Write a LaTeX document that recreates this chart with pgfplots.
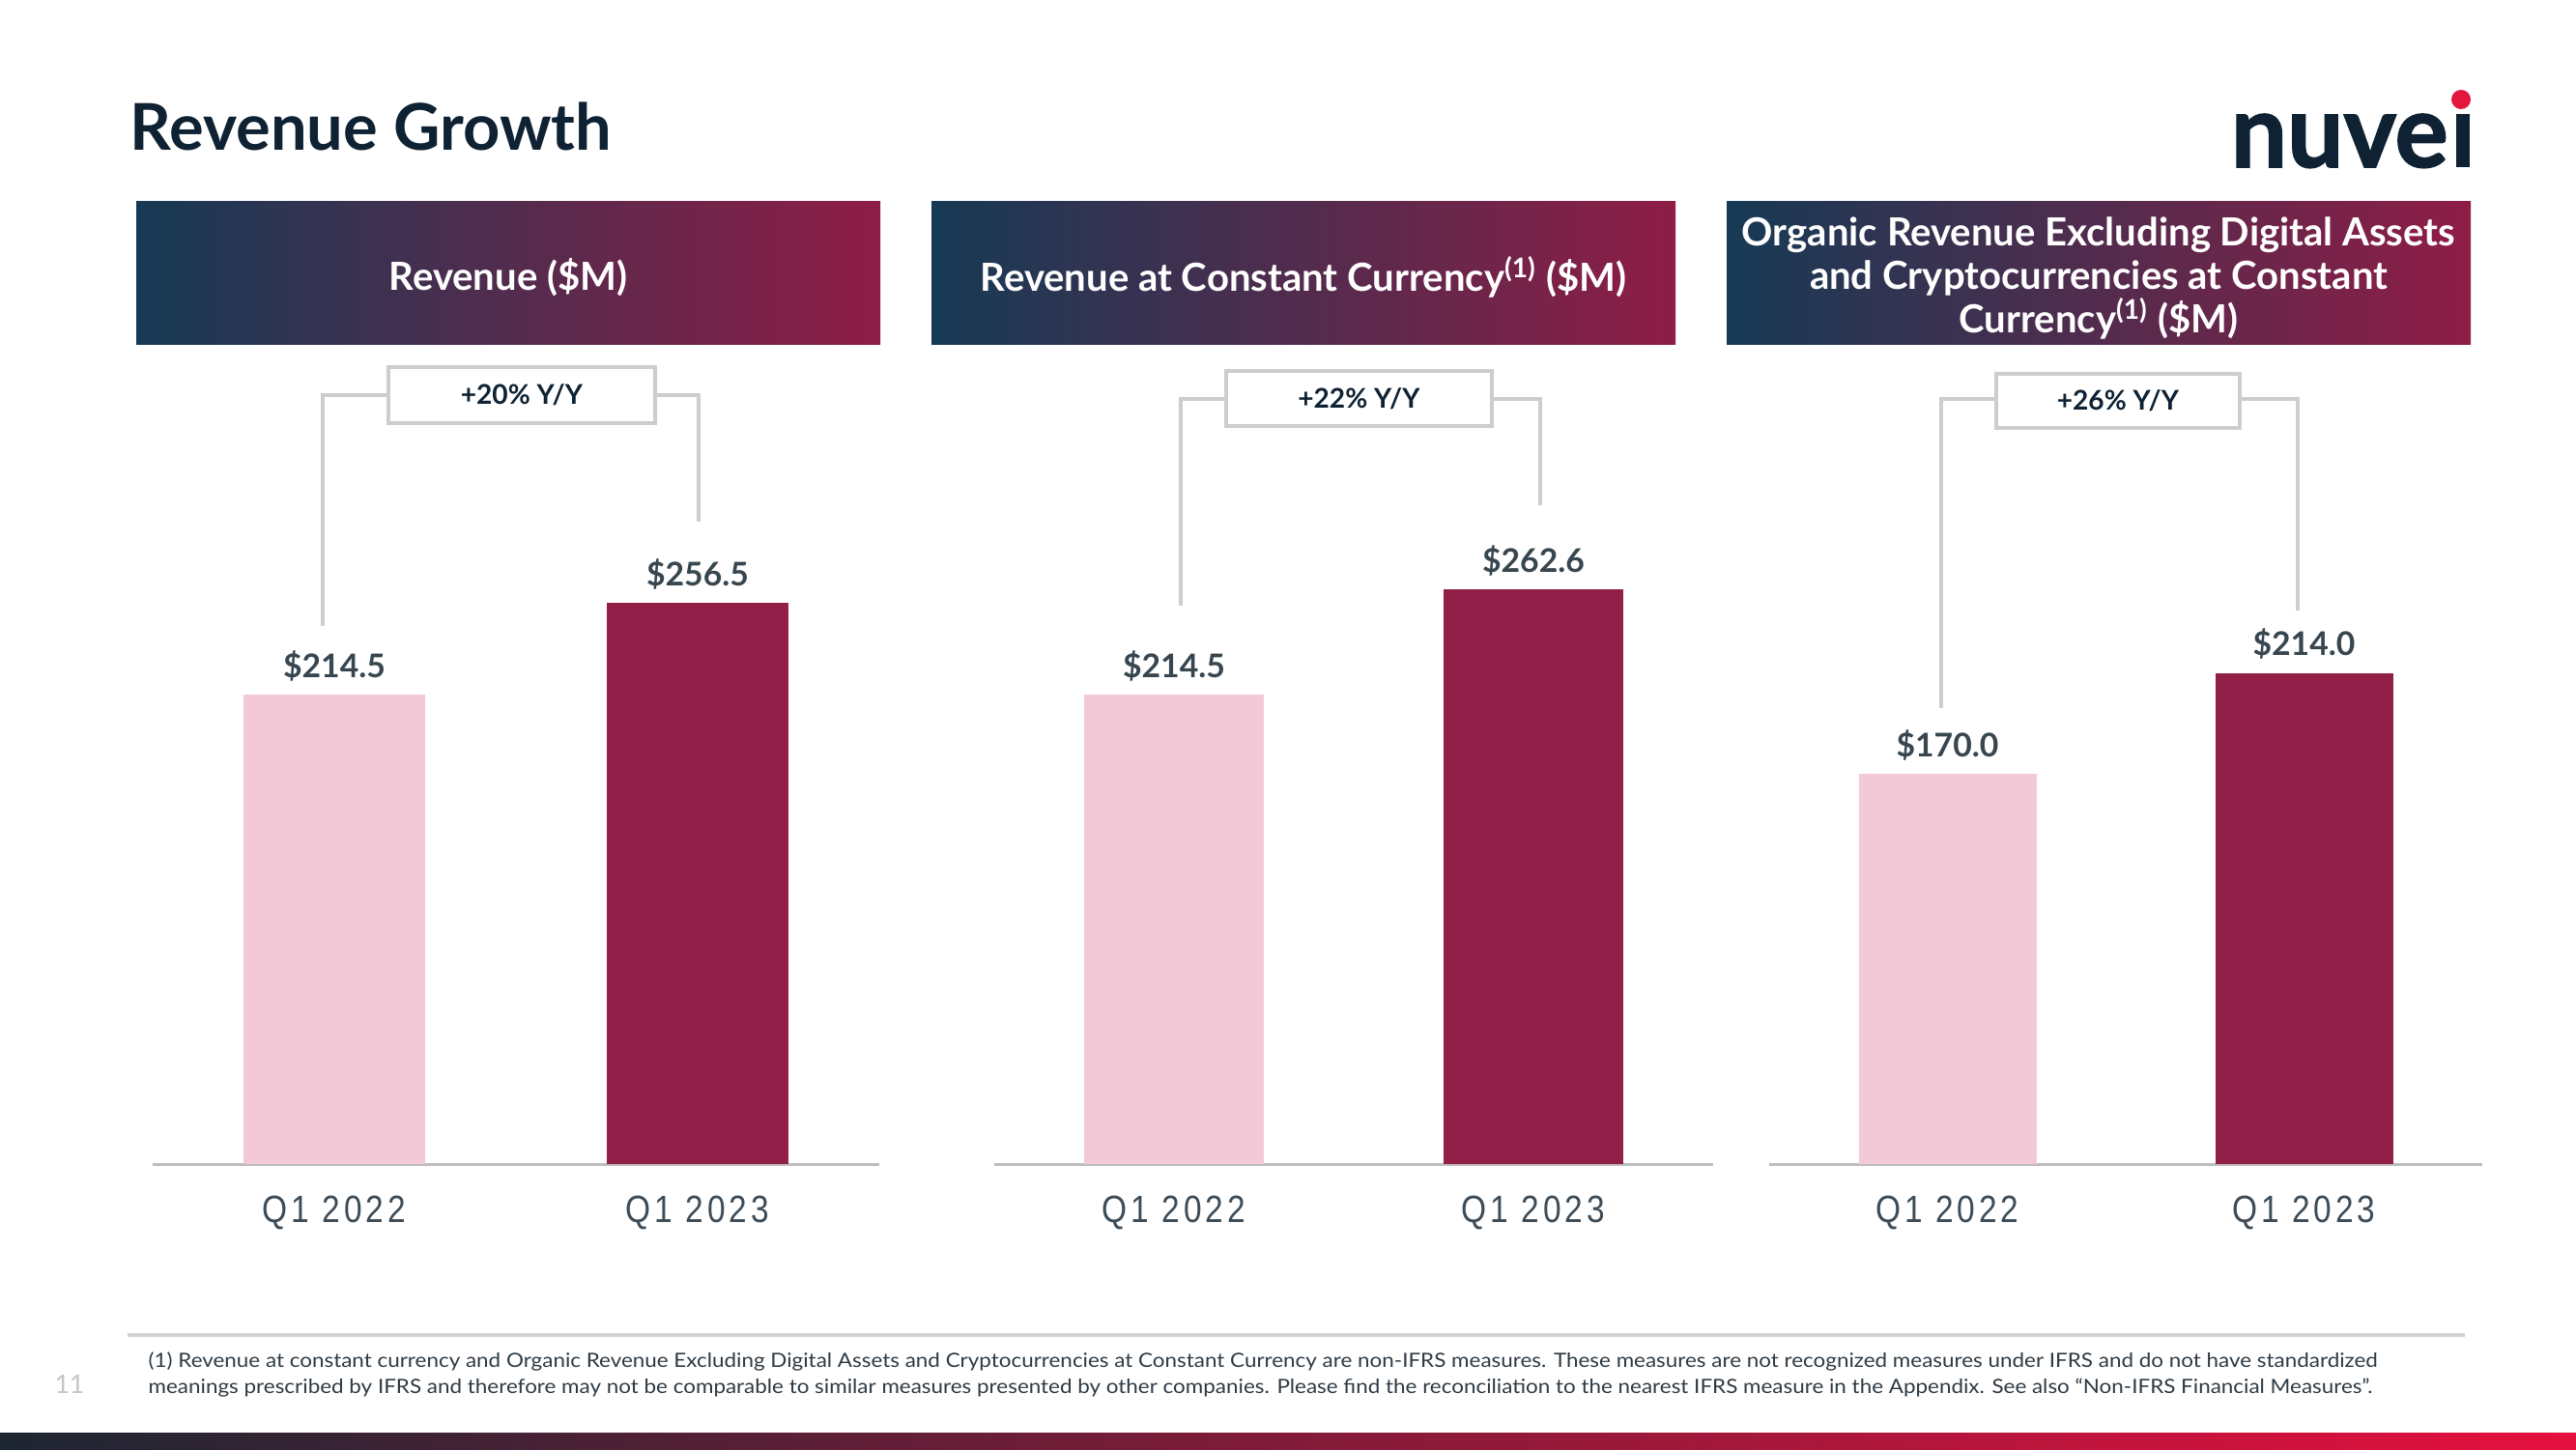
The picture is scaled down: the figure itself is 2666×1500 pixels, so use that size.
\documentclass[border=0pt]{standalone}
\usepackage{fontspec}
\setmainfont{Lato}
\newfontfamily\tickfont{Liberation Sans}[FakeStretch=0.85, LetterSpace=10]
\newfontfamily\logofont{Lato}[BoldFeatures={FakeBold=1.5}]
\newfontfamily\footfont{Lato}[FakeStretch=1.1]
\usepackage{pgfplots}
\pgfplotsset{compat=1.18}

\definecolor{titlec}{HTML}{0E2233}
\definecolor{logoc}{HTML}{0E2233}
\definecolor{dotred}{HTML}{E3173E}
\definecolor{hdrL}{HTML}{163A55}
\definecolor{hdrR}{HTML}{8F1D46}
\definecolor{pinkbar}{HTML}{F3C9D7}
\definecolor{crimson}{HTML}{921F48}
\definecolor{valc}{HTML}{37464F}
\definecolor{tickc}{HTML}{3E4C57}
\definecolor{brkgray}{HTML}{CDCDCD}
\definecolor{axisgray}{HTML}{BDBDBD}
\definecolor{sepgray}{HTML}{D3D3D3}
\definecolor{footc}{HTML}{2E3A44}
\definecolor{pagec}{HTML}{C5C5C5}
\definecolor{botL}{HTML}{1D2632}
\definecolor{botM}{HTML}{8A1C3A}
\definecolor{botR}{HTML}{E5103F}

\pgfplotsset{
  panel/.style={
    scale only axis,
    anchor=south west,
    height=60.5mm,
    xmin=-0.5, xmax=1.5, ymin=0,
    axis x line=bottom, axis y line=none,
    x axis line style={-, draw=axisgray, line width=0.3mm},
    xtick={0,1}, xticklabels={Q1 2022,Q1 2023},
    major tick length=0pt, xtick style={draw=none},
    xticklabel style={anchor=base, inner sep=0pt, yshift=-6mm,
      font=\tickfont\fontsize{11.2}{13}\selectfont, text=tickc},
    ytick=\empty,
    clip=false,
    /pgf/number format/assume math mode=true,
    point meta=y,
    nodes near coords={\$\pgfmathprintnumber[fixed,fixed zerofill,precision=1]{\pgfplotspointmeta}},
    every node near coord/.append style={anchor=base, yshift=1.8mm, inner sep=0pt,
      font=\bfseries\fontsize{9.6}{11}\selectfont, text=valc},
  },
}
\tikzset{brk/.style={draw=brkgray, line width=0.35mm}}

\begin{document}
\begin{tikzpicture}[x=0.1mm,y=0.1mm]
\path[use as bounding box] (0,0) rectangle (2666,1500);
\fill[white] (0,0) rectangle (2666,1500);

% title
\node[anchor=base west, inner sep=0pt, text=titlec,
  font=\fontsize{19}{21}\selectfont\bfseries] at (134,1344) {Revenue Growth};

% logo
\node[anchor=base west, inner sep=0pt, text=logoc] at (2308,1327)
  {\resizebox{22.5mm}{5.5mm}{\logofont\bfseries nuve}};
\fill[logoc] (2542,1327) rectangle (2556,1382);
\fill[dotred] (2547,1397) circle[radius=1mm];

% headers
\fill[left color=hdrL, right color=hdrR] (141,1143) rectangle (911,1291);
\fill[left color=hdrL, right color=hdrR] (964,1143) rectangle (1734,1291);
\fill[left color=hdrL, right color=hdrR] (1787,1143) rectangle (2557,1291);
\begin{scope}[every node/.style={text=white, align=center, inner sep=0pt,
    font=\fontsize{11.4}{12.9}\selectfont\bfseries}]
\node at (526,1213) {Revenue (\$M)};
\node at (1349,1213) {Revenue at Constant Currency\textsuperscript{(1)} (\$M)};
\node at (2172,1212) {Organic Revenue Excluding Digital Assets\\and Cryptocurrencies at Constant\\Currency\textsuperscript{(1)} (\$M)};
\end{scope}

% panel 1
\begin{axis}[panel, at={(15.8mm,29.5mm)}, width=75.2mm, ymax=267.1]
\addplot[ybar, bar shift=0pt, bar width=18.8mm, fill=pinkbar, draw=none] coordinates {(0,214.5)};
\addplot[ybar, bar shift=0pt, bar width=18.8mm, fill=crimson, draw=none] coordinates {(1,256.5)};
\end{axis}

% panel 2
\begin{axis}[panel, at={(102.9mm,29.5mm)}, width=74.4mm, ymax=267.1]
\addplot[ybar, bar shift=0pt, bar width=18.6mm, fill=pinkbar, draw=none] coordinates {(0,214.5)};
\addplot[ybar, bar shift=0pt, bar width=18.6mm, fill=crimson, draw=none] coordinates {(1,262.6)};
\end{axis}

% panel 3
\begin{axis}[panel, at={(183.1mm,29.5mm)}, width=73.8mm, ymax=254.8]
\addplot[ybar, bar shift=0pt, bar width=18.4mm, fill=pinkbar, draw=none] coordinates {(0,170.0)};
\addplot[ybar, bar shift=0pt, bar width=18.4mm, fill=crimson, draw=none] coordinates {(1,214.0)};
\end{axis}

% growth brackets
\begin{scope}[every node/.style={text=titlec, inner sep=0pt,
    font=\fontsize{8}{9}\selectfont\bfseries}]
\draw[brk] (334,852) -- (334,1091) -- (402,1091);
\draw[brk] (678,1091) -- (723,1091) -- (723,960);
\draw[brk, fill=white] (402,1062) rectangle (678,1120);
\node at (540,1091) {+20\% Y/Y};

\draw[brk] (1222,873) -- (1222,1087) -- (1269,1087);
\draw[brk] (1544,1087) -- (1594,1087) -- (1594,977);
\draw[brk, fill=white] (1269,1059) rectangle (1544,1116);
\node at (1406.5,1087) {+22\% Y/Y};

\draw[brk] (2009,767) -- (2009,1087) -- (2066,1087);
\draw[brk] (2318,1087) -- (2378,1087) -- (2378,868);
\draw[brk, fill=white] (2066,1057) rectangle (2318,1113);
\node at (2192,1085) {+26\% Y/Y};
\end{scope}

% footnote
\draw[sepgray, line width=0.4mm] (132,118) -- (2551,118);
\begin{scope}[every node/.style={anchor=base west, inner sep=0pt, text=footc,
    font=\footfont\fontsize{5.8}{7}\selectfont}]
\node at (153,85) {(1) Revenue at constant currency and Organic Revenue Excluding Digital Assets and Cryptocurrencies at Constant Currency are non-IFRS measures. These measures are not recognized measures under IFRS and do not have standardized};
\node at (153,58) {meanings prescribed by IFRS and therefore may not be comparable to similar measures presented by other companies. Please find the reconciliation to the nearest IFRS measure in the Appendix. See also “Non-IFRS Financial Measures”.};
\end{scope}
\node[anchor=base, inner sep=0pt, text=pagec, font=\fontsize{7.6}{9}\selectfont] at (72,58) {11};

% bottom bar
\shade[left color=botL, middle color=botM, right color=botR] (0,0) rectangle (2666,17);
\end{tikzpicture}
\end{document}
